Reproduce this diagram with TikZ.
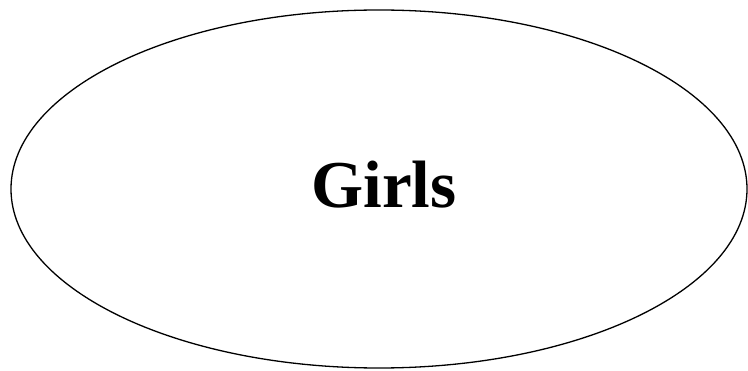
\documentclass[tikz,border=0pt]{standalone}
\usepackage{fontspec}
\setmainfont{Liberation Serif}
\usepackage{tikz}
\usetikzlibrary{positioning}

\begin{document}
\begin{tikzpicture}[
    x=1pt, y=1pt,
    label/.style={font=\fontsize{67}{80}\selectfont\bfseries, inner sep=0pt, anchor=base}
]
    \useasboundingbox (0,0) rectangle (748,370);

    % Outer ellipse
    \draw[line width=1.3pt] (379,181) ellipse (368 and 179);

    % Label
    \node[label] (girls) at (384,162) {Girls};

\end{tikzpicture}
\end{document}
